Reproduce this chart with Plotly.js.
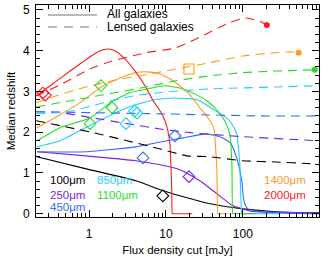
<!DOCTYPE html>
<html><head><meta charset="utf-8">
<script src="https://cdn.plot.ly/plotly-3.0.1.min.js"></script>
<style>html,body{margin:0;padding:0;background:#fff}#chart{width:330px;height:256px}</style>
</head><body><div id="chart"></div>
<script>
// ---- data: solid = all galaxies, dashed = lensed galaxies ----
const flux_100_all = [0.21, 0.92, 4.07, 8.4, 15.2, 36, 100, 267, 1000];
const z_100_all    = [1.40, 1.10, 0.81, 0.59, 0.44, 0.25, 0.12, 0.05, 0.02];
const flux_100_lens = [0.205, 0.42, 1.13, 3.11, 8.4, 18.7, 36, 100, 267, 720, 1000];
const z_100_lens    = [2.28, 2.16, 1.99, 1.79, 1.59, 1.42, 1.40, 1.30, 1.27, 1.23, 1.20];

const flux_250_all = [0.21, 0.92, 4.07, 8.4, 15.2, 27.6, 46, 74, 123, 302, 1000];
const z_250_all    = [1.52, 1.42, 1.30, 1.20, 1.08, 0.81, 0.49, 0.20, 0.07, 0.02, 0.0];
const flux_250_lens = [0.205, 0.42, 1.13, 3.11, 8.4, 20.5, 100, 1000];
const z_250_lens    = [2.50, 2.48, 2.35, 2.21, 2.08, 1.99, 1.89, 1.79];

const flux_450_all = [0.21, 0.92, 4.07, 8.4, 16.6, 34, 55, 70, 83, 97, 103, 116, 182, 406, 1000];
const z_450_all    = [1.52, 1.52, 1.64, 1.76, 1.86, 1.96, 1.86, 1.72, 1.37, 0.81, 0.32, 0.12, 0.05, 0.03, 0.01];
const flux_450_lens = [0.205, 1.13, 8.4, 166, 1000];
const z_450_lens    = [2.50, 2.48, 2.45, 2.40, 2.40];

const flux_850_all = [0.21, 0.42, 1.13, 3.11, 6.77, 13, 26, 37, 53, 67.6, 83, 91, 97, 99, 300];
const z_850_all    = [1.64, 1.79, 2.21, 2.60, 2.79, 2.84, 2.79, 2.62, 2.43, 2.28, 1.96, 1.23, 0.0, 0.0, 0.0];
const flux_850_lens = [0.205, 0.52, 1.39, 3.73, 10.3, 36, 267, 1000];
const z_850_lens    = [2.46, 2.50, 2.70, 2.89, 2.99, 3.06, 3.11, 3.14];

const flux_1100_all = [0.21, 0.42, 1.03, 2.05, 3.41, 5.66, 9.7, 16.6, 23.7, 34, 47, 58, 67.6, 72, 74, 75.5, 150];
const z_1100_all    = [1.79, 2.11, 2.35, 2.77, 2.97, 3.06, 3.14, 3.06, 2.94, 2.77, 2.52, 2.28, 1.96, 1.23, 0.0, 0.0, 0.0];
const flux_1100_lens = [0.205, 0.91, 4.07, 13.5, 36, 100, 267, 860];
const z_1100_lens    = [2.62, 2.84, 3.06, 3.26, 3.38, 3.46, 3.50, 3.53];

const flux_1400_all = [0.21, 0.42, 0.76, 1.43, 2.53, 3.96, 5.8, 8.4, 12.3, 19.3, 27.6, 36, 42, 44.5, 46, 47.5, 48.5, 65];
const z_1400_all    = [2.11, 2.43, 2.72, 3.11, 3.33, 3.46, 3.48, 3.43, 3.26, 2.97, 2.60, 2.33, 2.08, 1.54, 1.05, 0.0, 0.0, 0.0];
const flux_1400_lens = [0.205, 0.37, 0.91, 2.24, 5.5, 13.5, 36, 100, 267, 398, 532];
const z_1400_lens    = [2.72, 2.89, 3.11, 3.28, 3.41, 3.55, 3.70, 3.87, 3.95, 3.97, 3.95];

const flux_2000_all = [0.205, 0.312, 0.567, 1.03, 1.39, 1.76, 2.17, 2.93, 3.96, 5.34, 6.77, 8.4, 9.7, 10.6, 11.3, 11.6, 11.9, 12.1, 12.3, 22];
const z_2000_all    = [2.89, 3.14, 3.50, 3.85, 4.0, 4.04, 4.0, 3.80, 3.50, 3.14, 2.78, 2.52, 2.28, 2.03, 1.67, 1.18, 0.56, 0.0, 0.0, 0.0];
const flux_2000_lens = [0.205, 0.42, 1.03, 1.87, 5.5, 13.5, 36, 66, 109, 161, 205];
const z_2000_lens    = [2.89, 3.16, 3.55, 3.73, 3.95, 4.07, 4.44, 4.68, 4.80, 4.73, 4.63];

// observed sources (open diamonds) and square
const obs_100_flux = [9.1],  obs_100_z = [0.44];
const obs_250_flux = [19.9], obs_250_z = [0.91];
const obs_450_flux = [13.1, 5.03], obs_450_z = [1.91, 1.37];
const obs_850_flux = [3.9, 4.2, 3.02], obs_850_z = [2.52, 2.47, 2.21];
const obs_1100_flux = [1.43, 1.99, 1.03], obs_1100_z = [3.14, 2.60, 2.21];
const obs_2000_flux = [0.25, 0.27], obs_2000_z = [2.96, 2.91];
const sq_1400_flux = [19.9], sq_1400_z = [3.55];

const wavelengths = ['100', '250', '450', '850', '1100', '1400', '2000'];
const colors = {'100':'#000000','250':'#7a22e6','450':'#2f6bff','850':'#1fcfff','1100':'#1fe01f','1400':'#ff9a1f','2000':'#ff1a1a'};

const series = {
  '100':[flux_100_all,z_100_all,flux_100_lens,z_100_lens],
  '250':[flux_250_all,z_250_all,flux_250_lens,z_250_lens],
  '450':[flux_450_all,z_450_all,flux_450_lens,z_450_lens],
  '850':[flux_850_all,z_850_all,flux_850_lens,z_850_lens],
  '1100':[flux_1100_all,z_1100_all,flux_1100_lens,z_1100_lens],
  '1400':[flux_1400_all,z_1400_all,flux_1400_lens,z_1400_lens],
  '2000':[flux_2000_all,z_2000_all,flux_2000_lens,z_2000_lens]
};

const traces = [];
wavelengths.forEach(w => {
  const s = series[w];
  traces.push({x:s[0], y:s[1], mode:'lines', line:{color:colors[w], width:1.1, shape:'spline', smoothing:0.5}, showlegend:false, hoverinfo:'skip'});
});
wavelengths.forEach(w => {
  const s = series[w];
  traces.push({x:s[2], y:s[3], mode:'lines', line:{color:colors[w], width:1.1, dash:'9px,6px', shape:'spline', smoothing:0.6}, showlegend:false, hoverinfo:'skip'});
});
// end dots of lensed curves
['1100','1400','2000'].forEach(w => {
  const s = series[w];
  traces.push({x:[s[2][s[2].length-1]], y:[s[3][s[3].length-1]], mode:'markers', marker:{color:colors[w], size:6, symbol:'circle'}, showlegend:false, hoverinfo:'skip', cliponaxis:false});
});
const obs = [[obs_100_flux,obs_100_z,'100'],[obs_250_flux,obs_250_z,'250'],[obs_450_flux,obs_450_z,'450'],
             [obs_850_flux,obs_850_z,'850'],[obs_1100_flux,obs_1100_z,'1100'],[obs_2000_flux,obs_2000_z,'2000']];
obs.forEach(o => traces.push({x:o[0], y:o[1], mode:'markers', marker:{symbol:'diamond-open', size:9, color:colors[o[2]], line:{width:1.1}}, showlegend:false, hoverinfo:'skip', cliponaxis:false}));
traces.push({x:sq_1400_flux, y:sq_1400_z, mode:'markers', marker:{symbol:'square-open', size:10, color:colors['1400'], line:{width:1.1}}, showlegend:false, hoverinfo:'skip'});

const fnt = {family:'Liberation Sans, Arial, Helvetica, sans-serif', size:12, color:'#000'};
const wlLabel = (w, x, y) => ({text: w + 'μm', x:x, y:y, xref:'paper', yref:'paper', xanchor:'left', yanchor:'middle', showarrow:false, font:{family:fnt.family, size:11.5, color:colors[w]}});
const px = v => (v-36)/283, py = v => (217-v)/212;

const layout = {
  width:330, height:256,
  margin:{l:36, r:11, t:5, b:39},
  paper_bgcolor:'#fff', plot_bgcolor:'#fff',
  font:fnt,
  showlegend:false,
  xaxis:{type:'log', range:[-0.69, 2.99], showgrid:false, zeroline:false,
    showline:true, linecolor:'#000', linewidth:1, mirror:'allticks',
    ticks:'inside', ticklen:7, tickcolor:'#000', tickwidth:1,
    tickmode:'array', tickvals:[1,10,100,1000], ticktext:['1','10','100','1000'],
    ticklabelstandoff:6,
    minor:{ticks:'inside', ticklen:4, tickcolor:'#000', dtick:'D1', showgrid:false},
    title:{text:'Flux density cut [mJy]', font:{size:11.5}, standoff:6}},
  yaxis:{range:[-0.08, 5.12], showgrid:false, zeroline:false,
    showline:true, linecolor:'#000', linewidth:1, mirror:'allticks',
    ticks:'inside', ticklen:7, tickcolor:'#000', tickwidth:1,
    tickvals:[0,1,2,3,4,5], ticklabelstandoff:3,
    minor:{ticks:'inside', ticklen:4, tickcolor:'#000', dtick:0.2, showgrid:false},
    title:{text:'Median redshift', font:{size:11.5}, standoff:4}},
  shapes:[
    {type:'line', xref:'paper', yref:'paper', x0:px(48), x1:px(97), y0:py(15), y1:py(15), line:{color:'#777', width:1.2}},
    {type:'line', xref:'paper', yref:'paper', x0:px(48), x1:px(97), y0:py(27), y1:py(27), line:{color:'#777', width:1.2, dash:'9px,7px'}}
  ],
  annotations:[
    {text:'All galaxies', x:px(105), y:py(14), xref:'paper', yref:'paper', xanchor:'left', yanchor:'middle', showarrow:false, font:{size:12}},
    {text:'Lensed galaxies', x:px(105), y:py(27), xref:'paper', yref:'paper', xanchor:'left', yanchor:'middle', showarrow:false, font:{size:12}},
    wlLabel('100', px(48), py(180)),
    wlLabel('250', px(48), py(195)),
    wlLabel('450', px(48), py(207)),
    wlLabel('850', px(95), py(180)),
    wlLabel('1100', px(95), py(195)),
    wlLabel('1400', px(262), py(180)),
    wlLabel('2000', px(262), py(195))
  ]
};
Plotly.newPlot('chart', traces, layout, {displayModeBar:false, staticPlot:true});
</script></body></html>
